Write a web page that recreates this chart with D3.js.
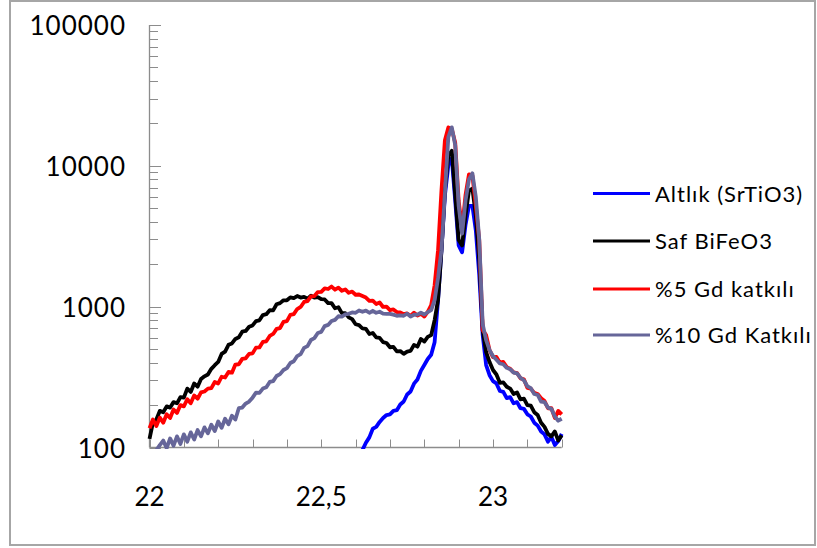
<!DOCTYPE html>
<html><head><meta charset="utf-8">
<script src="https://cdn.jsdelivr.net/npm/d3@7"></script>
<style>body{margin:0;background:#fff}svg{display:block}</style>
</head><body>
<svg id="c" width="817" height="548"></svg>
<script>
const xValues = [
22.00,22.01,22.02,22.03,22.04,22.05,22.06,22.07,22.08,22.09,
22.10,22.11,22.12,22.13,22.14,22.15,22.16,22.17,22.18,22.19,
22.20,22.21,22.22,22.23,22.24,22.25,22.26,22.27,22.28,22.29,
22.30,22.31,22.32,22.33,22.34,22.35,22.36,22.37,22.38,22.39,
22.40,22.41,22.42,22.43,22.44,22.45,22.46,22.47,22.48,22.49,
22.50,22.51,22.52,22.53,22.54,22.55,22.56,22.57,22.58,22.59,
22.60,22.61,22.62,22.63,22.64,22.65,22.66,22.67,22.68,22.69,
22.70,22.71,22.72,22.73,22.74,22.75,22.76,22.77,22.78,22.79,
22.80,22.81,22.82,22.83,22.84,22.85,22.86,22.87,22.88,22.89,
22.90,22.91,22.92,22.93,22.94,22.95,22.96,22.97,22.98,22.99,
23.00,23.01,23.02,23.03,23.04,23.05,23.06,23.07,23.08,23.09,
23.10,23.11,23.12,23.13,23.14,23.15,23.16,23.17,23.18,23.19,
23.20];

const altlik = [
null,null,null,null,null,null,null,null,null,null,
null,null,null,null,null,null,null,null,null,null,
null,null,null,null,null,null,null,null,null,null,
null,null,null,null,null,null,null,null,null,null,
null,null,null,null,null,null,null,null,null,null,
null,null,null,null,null,null,null,null,null,null,
81,88,96,108,118,136,140,152,162,170,
172,182,184,202,212,238,250,284,304,350,
385,425,455,560,1112,2520,6190,10100,11300,5650,
2720,2430,3800,5200,5200,3480,1670,628,385,326,
296,285,252,248,224,228,206,210,190,188,
172,166,150,143,130,124,110,119,104,111,
125];

const safBiFeO3 = [
115,150,158,182,178,196,192,210,206,228,
226,262,248,285,270,306,320,330,362,384,
405,462,480,536,548,590,606,664,672,720,
736,790,800,872,884,944,940,1040,1060,1110,
1110,1165,1150,1190,1160,1175,1140,1195,1160,1170,
1130,1125,1060,1060,975,990,900,900,840,815,
750,740,700,695,640,650,605,600,560,552,
515,518,482,484,462,480,485,535,520,590,
565,610,628,803,1112,2500,6700,11800,12800,6190,
2970,2720,4440,6670,6900,4440,2130,681,475,404,
355,330,288,290,270,262,240,246,220,222,
200,198,178,170,150,140,125,120,130,112,
122];

const gd5 = [
137,158,142,163,150,172,162,186,176,200,
196,220,206,234,222,246,250,262,264,292,
285,318,314,344,340,388,390,426,430,462,
466,512,514,562,568,620,640,696,705,780,
790,874,885,962,995,1080,1095,1185,1190,1270,
1275,1350,1335,1390,1320,1365,1295,1325,1255,1280,
1215,1220,1190,1160,1100,1105,1045,1070,995,1000,
945,955,915,910,885,895,860,905,865,890,
850,920,1025,1420,2520,6700,15200,18750,18300,14600,
5650,3600,6190,8700,8560,5200,2950,681,628,491,
438,440,400,405,372,362,342,338,310,305,
265,262,244,240,224,214,190,190,162,182,
172];

const gd10 = [
93,88,96,104,112,99,116,103,120,106,
124,110,128,114,133,120,139,126,145,131,
153,138,160,146,168,158,190,192,205,212,
226,245,244,262,268,292,296,322,332,355,
366,398,410,446,460,510,525,580,598,650,
662,728,742,790,806,855,850,880,890,910,
905,940,920,938,905,935,905,920,892,890,
890,878,862,866,862,892,850,876,878,905,
880,913,944,1112,1600,2520,6400,16000,18750,14000,
5200,3300,5650,8000,8850,6000,3000,750,579,491,
445,420,395,390,368,360,340,336,312,300,
272,264,240,236,212,210,192,188,166,155,
160];

const seriesNames = ["Altlık (SrTiO3)","Saf BiFeO3","%5 Gd katkılı","%10 Gd Katkılı"];
const seriesColors = ["#0000ff","#000000","#ff0000","#666699"];
const seriesData = [altlik, safBiFeO3, gd5, gd10];

const xTickValues = [22, 22.5, 23];
const xTickLabels = ["22","22,5","23"];
const yTickValues = [100, 1000, 10000, 100000];
const yTickLabels = ["100","1000","10000","100000"];

const svg = d3.select("#c");
const FONT = "Lato, 'Open Sans', sans-serif";

// chart border
svg.append("rect").attr("x",10).attr("y",1).attr("width",805).attr("height",544)
  .attr("fill","none").attr("stroke","#a6a6a6").attr("stroke-width",2);

const x = d3.scaleLinear().domain([22,23.2]).range([149.5,561.7]);
const y = d3.scaleLog().domain([100,100000]).range([447.5,25]);

const axisColor = "#8c8c8c";
const yT = y.ticks();
svg.append("g").selectAll("line").data(yT).join("line")
  .attr("x1",149.5).attr("x2",d => yTickValues.includes(d) ? 161 : 158)
  .attr("y1",d=>Math.round(y(d))+0.5).attr("y2",d=>Math.round(y(d))+0.5)
  .attr("stroke",axisColor).attr("stroke-width",1);
const xT = x.ticks(12);
svg.append("g").selectAll("line").data(xT).join("line")
  .attr("x1",d=>Math.round(x(d))+0.5).attr("x2",d=>Math.round(x(d))+0.5)
  .attr("y1",447.5).attr("y2",439.5)
  .attr("stroke",axisColor).attr("stroke-width",1);
svg.append("line").attr("x1",149.5).attr("x2",149.5).attr("y1",y(100000)).attr("y2",447.5)
  .attr("stroke",axisColor).attr("stroke-width",1.3);
svg.append("line").attr("x1",149.5).attr("x2",x(23.2)).attr("y1",447.5).attr("y2",447.5)
  .attr("stroke",axisColor).attr("stroke-width",1.3);

svg.append("g").selectAll("text").data(yTickValues).join("text")
  .attr("x",126).attr("y",d=>y(d)+10).attr("text-anchor","end")
  .attr("font-family",FONT).attr("font-size",26).attr("letter-spacing",1).attr("fill","#000")
  .text((d,i)=>yTickLabels[i]);
svg.append("g").selectAll("text").data(xTickValues).join("text")
  .attr("x",d=>x(d)).attr("y",506).attr("text-anchor","middle")
  .attr("font-family",FONT).attr("font-size",26).attr("fill","#000")
  .text((d,i)=>xTickLabels[i]);

svg.append("clipPath").attr("id","plot").append("rect")
  .attr("x",146).attr("y",20).attr("width",420).attr("height",429);

const line = d3.line()
  .defined(d => d[1] != null)
  .x(d => x(d[0])).y(d => y(d[1]));

const gLines = svg.append("g").attr("clip-path","url(#plot)");
seriesData.forEach((s,i) => {
  const pts = xValues.map((xv,j)=>[xv, s[j]]);
  gLines.append("path").datum(pts).attr("d",line)
    .attr("fill","none").attr("stroke",seriesColors[i])
    .attr("stroke-width",3.8).attr("stroke-linejoin","round").attr("stroke-linecap","butt");
});

const legY = [193.5, 241, 289, 335];
const lg = svg.append("g");
seriesNames.forEach((n,i)=>{
  lg.append("line").attr("x1",593).attr("x2",650).attr("y1",legY[i]).attr("y2",legY[i])
    .attr("stroke",seriesColors[i]).attr("stroke-width",3);
  lg.append("text").attr("x",655).attr("y",legY[i]+8).attr("font-family",FONT)
    .attr("font-size",22).attr("letter-spacing",1).attr("fill","#000").text(n);
});
</script>
</body></html>
